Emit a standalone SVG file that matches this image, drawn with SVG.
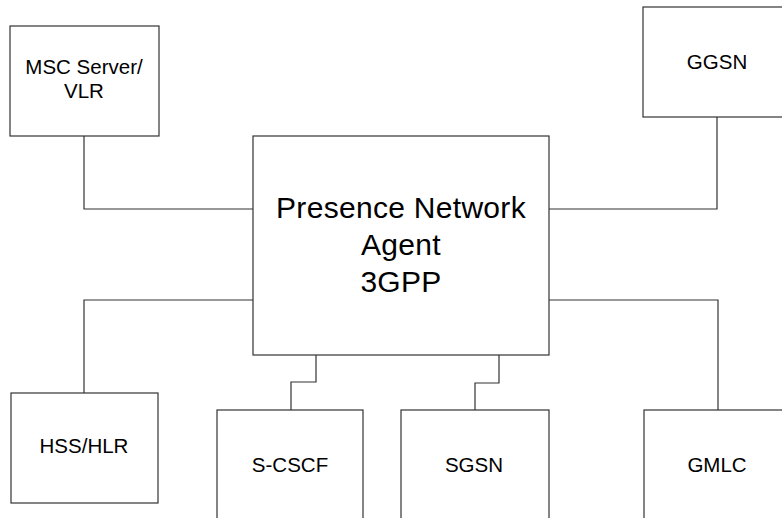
<svg xmlns="http://www.w3.org/2000/svg" width="782" height="518" viewBox="0 0 782 518">
<style>
.box{fill:#fff;stroke:#333;stroke-width:1.2}
.ln{fill:none;stroke:#333;stroke-width:1.2}
.t{font-family:"Liberation Sans",Arial,sans-serif;font-size:20.5px;fill:#000;text-anchor:middle}
.tb{font-family:"Liberation Sans",Arial,sans-serif;font-size:30px;letter-spacing:0.3px;fill:#000;text-anchor:middle}
</style>
<rect width="782" height="518" fill="#fff"/>
<g id="connectors">
<polyline class="ln" points="84,136 84,209 253,209"/>
<polyline class="ln" points="717,117 717,209 549,209"/>
<polyline class="ln" points="253,300 84,300 84,393"/>
<polyline class="ln" points="549,300 718,300 718,410"/>
<polyline class="ln" points="316,355 316,382 291,382 291,410"/>
<polyline class="ln" points="499,355 499,383 475,383 475,410"/>
</g>
<g id="pna">
<rect class="box" x="253" y="136" width="296" height="219"/>
<text class="tb" x="401" y="218">Presence Network</text>
<text class="tb" x="401" y="255">Agent</text>
<text class="tb" x="401" y="292">3GPP</text>
</g>
<g id="msc">
<rect class="box" x="10" y="26" width="149" height="110"/>
<text class="t" x="84" y="74">MSC Server/</text>
<text class="t" x="84" y="98">VLR</text>
</g>
<g id="ggsn">
<rect class="box" x="643" y="7" width="148" height="110"/>
<text class="t" x="717" y="69">GGSN</text>
</g>
<g id="hss">
<rect class="box" x="11" y="393" width="147" height="110"/>
<text class="t" x="84" y="453">HSS/HLR</text>
</g>
<g id="scscf">
<rect class="box" x="217" y="410" width="146" height="120"/>
<text class="t" x="290" y="472">S-CSCF</text>
</g>
<g id="sgsn">
<rect class="box" x="401" y="410" width="148" height="120"/>
<text class="t" x="474" y="472">SGSN</text>
</g>
<g id="gmlc">
<rect class="box" x="644" y="410" width="148" height="120"/>
<text class="t" x="717" y="472">GMLC</text>
</g>
</svg>
